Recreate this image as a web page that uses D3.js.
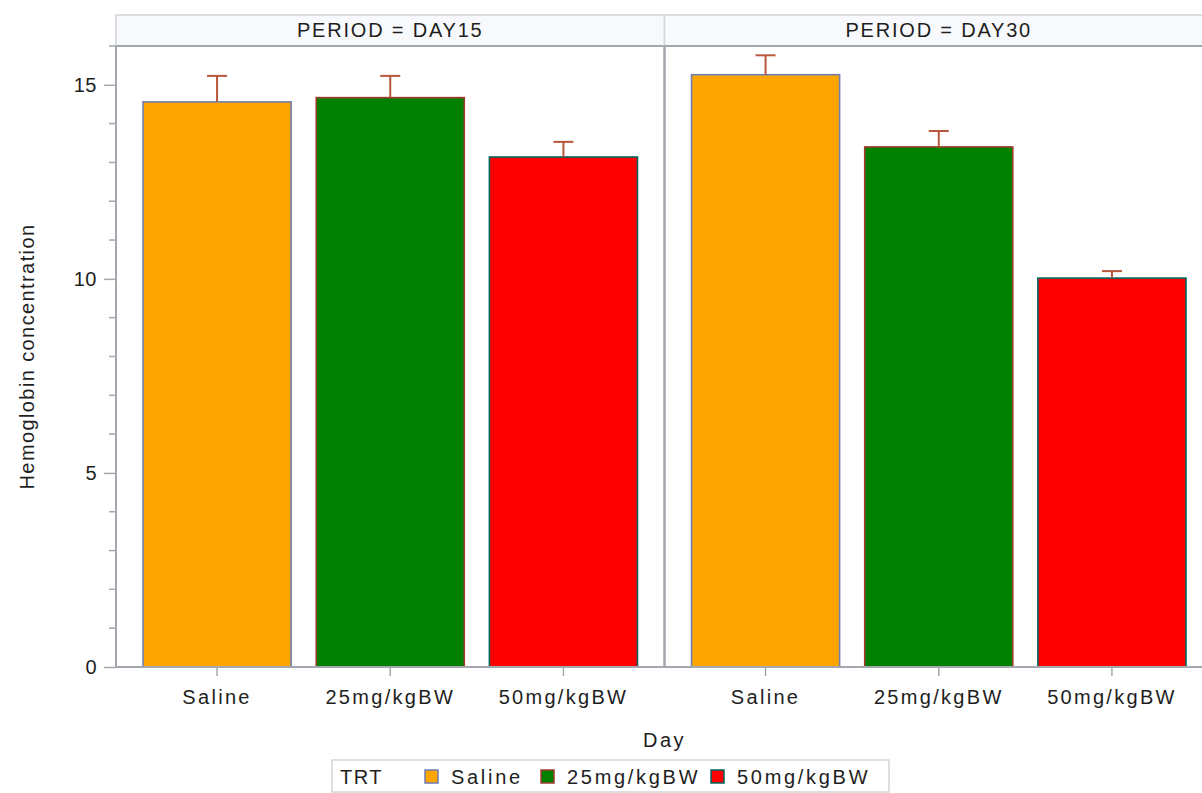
<!DOCTYPE html>
<html>
<head>
<meta charset="utf-8">
<script src="https://cdn.jsdelivr.net/npm/d3@7"></script>
<style>
  html, body { margin: 0; padding: 0; background: #fff; overflow: hidden; }
  svg { display: block; font-family: "Liberation Sans", Arial, sans-serif; }
</style>
</head>
<body>
<svg id="chart" width="1202" height="793"></svg>
<script>
// Hemoglobin concentration by treatment, paneled by period
const periods = ["DAY15", "DAY30"];
const treatments = ["Saline", "25mg/kgBW", "50mg/kgBW"];
const meanDay15 = [14.56, 14.67, 13.14];
const meanDay30 = [15.26, 13.40, 10.02];
const upperDay15 = [15.23, 15.23, 13.53];
const upperDay30 = [15.76, 13.81, 10.20];
const yTicks = [0, 5, 10, 15];

const fills = ["#FFA500", "#008000", "#FF0000"];
const strokes = ["#6F7EB3", "#A23A2E", "#01665E"];
const errColor = "#B8573A";
const frameColor = "#A3A8AE";
const textColor = "#1E1E1E";
const FONT = "Liberation Sans, Arial, sans-serif";

const means = [meanDay15, meanDay30];
const uppers = [upperDay15, upperDay30];

const svg = d3.select("#chart");
const plotLeft = 116, panelW = 548.5, plotTop = 46, plotBottom = 667;
const stripTop = 15;

const y = d3.scaleLinear().domain([0, 16]).range([plotBottom, plotTop]);

periods.forEach((p, i) => {
  const x0 = plotLeft + i * panelW;
  const x = d3.scaleBand().domain(treatments)
    .range([x0, x0 + panelW]).paddingInner(0.145).paddingOuter(0.156);
  const g = svg.append("g");

  // header strip
  g.append("rect").attr("x", x0).attr("y", stripTop)
    .attr("width", panelW).attr("height", plotTop - stripTop)
    .attr("fill", "#F8F9FD").attr("stroke", "#D3D5D8").attr("stroke-width", 1.5);
  g.append("text").attr("x", x0 + panelW / 2).attr("y", stripTop + 22)
    .attr("text-anchor", "middle").attr("font-size", 20).attr("letter-spacing", 1.8)
    .attr("fill", textColor).text("PERIOD = " + p);

  // bars
  g.selectAll("rect.bar").data(treatments).join("rect")
    .attr("class", "bar")
    .attr("x", d => x(d))
    .attr("y", (d, j) => y(means[i][j]))
    .attr("width", x.bandwidth())
    .attr("height", (d, j) => y(0) - y(means[i][j]))
    .attr("fill", (d, j) => fills[j])
    .attr("stroke", (d, j) => strokes[j])
    .attr("stroke-width", 1.6);

  // error bars (upper)
  treatments.forEach((t, j) => {
    const cx = x(t) + x.bandwidth() / 2;
    g.append("line").attr("x1", cx).attr("x2", cx)
      .attr("y1", y(means[i][j])).attr("y2", y(uppers[i][j]))
      .attr("stroke", errColor).attr("stroke-width", 2);
    g.append("line").attr("x1", cx - 10).attr("x2", cx + 10)
      .attr("y1", y(uppers[i][j])).attr("y2", y(uppers[i][j]))
      .attr("stroke", errColor).attr("stroke-width", 2);
  });

  // x axis
  const xa = g.append("g").attr("transform", `translate(0,${plotBottom})`)
    .call(d3.axisBottom(x).tickSize(9).tickPadding(14).tickSizeOuter(0));
  xa.select(".domain").remove();
  xa.selectAll(".tick line").attr("stroke", frameColor).attr("stroke-width", 1.5);
  xa.selectAll(".tick text").attr("font-size", 20).attr("letter-spacing", 2.3)
    .attr("fill", textColor).attr("font-family", FONT);

  // panel frame
  g.append("rect").attr("x", x0).attr("y", plotTop)
    .attr("width", panelW).attr("height", plotBottom - plotTop)
    .attr("fill", "none").attr("stroke", frameColor).attr("stroke-width", 2);
});

// y axis: major and minor ticks
const ya = svg.append("g").attr("transform", `translate(${plotLeft},0)`)
  .call(d3.axisLeft(y).tickValues(yTicks).tickSize(12).tickPadding(7));
ya.select(".domain").remove();
ya.selectAll(".tick line").attr("stroke", frameColor).attr("stroke-width", 1.5);
ya.selectAll(".tick text").attr("font-size", 20).attr("letter-spacing", 0.5)
  .attr("fill", textColor).attr("font-family", FONT);
const minor = d3.range(0, 17).filter(v => v % 5 !== 0);
svg.append("g").selectAll("line").data(minor).join("line")
  .attr("x1", plotLeft - 7).attr("x2", plotLeft)
  .attr("y1", d => y(d)).attr("y2", d => y(d))
  .attr("stroke", frameColor).attr("stroke-width", 1.5);

// axis titles
svg.append("text").attr("x", plotLeft + panelW).attr("y", 747)
  .attr("text-anchor", "middle").attr("font-size", 20).attr("letter-spacing", 2.5)
  .attr("fill", textColor).text("Day");
svg.append("text")
  .attr("transform", `translate(34,${(plotTop + plotBottom) / 2}) rotate(-90)`)
  .attr("text-anchor", "middle").attr("font-size", 20).attr("letter-spacing", 1.4)
  .attr("fill", textColor).text("Hemoglobin concentration");

// legend
const lg = svg.append("g");
lg.append("rect").attr("x", 332).attr("y", 760).attr("width", 557).attr("height", 32)
  .attr("fill", "#fff").attr("stroke", "#D3D5D8").attr("stroke-width", 1.5);
lg.append("text").attr("x", 340).attr("y", 784).attr("font-size", 20).attr("letter-spacing", 1.5)
  .attr("fill", textColor).text("TRT");
const legendX = [425, 541, 711];
treatments.forEach((t, j) => {
  lg.append("rect").attr("x", legendX[j]).attr("y", 770).attr("width", 13).attr("height", 13)
    .attr("fill", fills[j]).attr("stroke", strokes[j]).attr("stroke-width", 1.5);
  lg.append("text").attr("x", legendX[j] + 26).attr("y", 784)
    .attr("font-size", 20).attr("letter-spacing", 2.7)
    .attr("fill", textColor).text(t);
});
</script>
</body>
</html>
